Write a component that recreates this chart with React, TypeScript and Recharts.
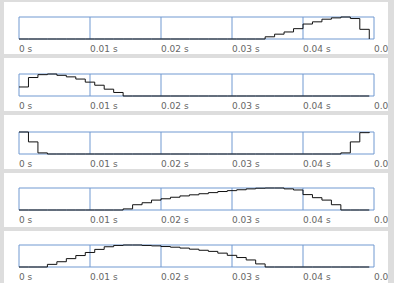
import React from 'react';
import { LineChart, Line, XAxis, YAxis, CartesianGrid } from 'recharts';

// sample period of the stepped signal (s)
const SAMPLE_PERIOD = 1 / 750;

const xTicks = [0, 0.01, 0.02, 0.03, 0.04, 0.05];
const xTickLabels = ['0 s', '0.01 s', '0.02 s', '0.03 s', '0.04 s', '0.05 s'];
const yTicks = [0, 0.5, 1];

const channel1 = [
  0, 0, 0, 0, 0, 0, 0, 0, 0, 0, 0, 0, 0, 0, 0, 0, 0, 0, 0, 0,
  0, 0, 0, 0, 0, 0, 0.1, 0.22, 0.32, 0.47, 0.68, 0.78, 0.9, 0.96, 1.0, 0.93,
  0.44, 0,
];
const channel2 = [
  0.41, 0.84, 0.97, 1.0, 0.94, 0.87, 0.77, 0.63, 0.49, 0.31, 0.16, 0, 0, 0, 0, 0, 0, 0, 0, 0,
  0, 0, 0, 0, 0, 0, 0, 0, 0, 0, 0, 0, 0, 0, 0, 0,
  0, 0,
];
const channel3 = [
  1.0, 0.55, 0.05, 0, 0, 0, 0, 0, 0, 0, 0, 0, 0, 0, 0, 0, 0, 0, 0, 0,
  0, 0, 0, 0, 0, 0, 0, 0, 0, 0, 0, 0, 0, 0, 0.05, 0.55,
  0.97, 1.0,
];
const channel4 = [
  0, 0, 0, 0, 0, 0, 0, 0, 0, 0, 0, 0.05, 0.24, 0.33, 0.45, 0.51, 0.58, 0.64, 0.69, 0.74,
  0.79, 0.84, 0.88, 0.92, 0.96, 0.99, 1.0, 1.0, 0.96, 0.91, 0.7, 0.56, 0.45, 0.24, 0, 0,
  0, 0,
];
const channel5 = [
  0, 0, 0, 0.12, 0.24, 0.38, 0.52, 0.66, 0.8, 0.92, 0.98, 1.0, 1.0, 0.98, 0.96, 0.93, 0.9, 0.86, 0.81, 0.76,
  0.71, 0.63, 0.53, 0.43, 0.32, 0.14, 0, 0, 0, 0, 0, 0, 0, 0, 0, 0,
  0, 0,
];

const channels = [channel1, channel2, channel3, channel4, channel5];

const panels = [
  { boxTop: 2, boxHeight: 52, plotTop: 17 },
  { boxTop: 58, boxHeight: 53, plotTop: 74 },
  { boxTop: 115, boxHeight: 54, plotTop: 132 },
  { boxTop: 173, boxHeight: 54, plotTop: 188 },
  { boxTop: 231, boxHeight: 60, plotTop: 245 },
];

const PLOT_H = 22;
const AXIS_H = 16;
const GRID = '#7199d1';

function Panel({ values, boxTop, boxHeight, plotTop }: { values: number[]; boxTop: number; boxHeight: number; plotTop: number }) {
  const data = values.map((v, k) => ({ t: k * SAMPLE_PERIOD, v }));
  const mTop = plotTop - boxTop;
  return (
    <div
      style={{
        position: 'absolute',
        left: 4,
        top: boxTop,
        width: 384,
        height: boxHeight,
        background: '#ffffff',
        overflow: 'hidden',
      }}
    >
      <div style={{ position: 'absolute', left: -4, top: 0 }}>
        <LineChart
          width={394}
          height={mTop + PLOT_H + AXIS_H}
          data={data}
          margin={{ top: mTop, right: 20, left: 19, bottom: 0 }}
        >
          <CartesianGrid stroke={GRID} strokeWidth={1} />
          <XAxis
            dataKey="t"
            type="number"
            domain={[0, 0.05]}
            ticks={xTicks}
            interval={0}
            height={AXIS_H}
            axisLine={false}
            tickLine={false}
            tickSize={0}
            tickMargin={7}
            tickFormatter={(v: number) => xTickLabels[xTicks.indexOf(v)] ?? `${v} s`}
            tick={{ textAnchor: 'start', fill: '#666666', fontSize: 9, fontFamily: 'DejaVu Sans' }}
            allowDataOverflow
          />
          <YAxis hide type="number" domain={[0, 1]} ticks={yTicks} />
          <Line
            type="stepAfter"
            dataKey="v"
            stroke="#111111"
            strokeWidth={1}
            dot={false}
            isAnimationActive={false}
          />
        </LineChart>
      </div>
    </div>
  );
}

export default function App() {
  return (
    <div
      style={{
        position: 'absolute',
        left: 0,
        top: 0,
        width: 394,
        height: 283,
        background: '#dddddd',
        overflow: 'hidden',
      }}
    >
      {panels.map((p, i) => (
        <Panel key={i} values={channels[i]} {...p} />
      ))}
    </div>
  );
}
